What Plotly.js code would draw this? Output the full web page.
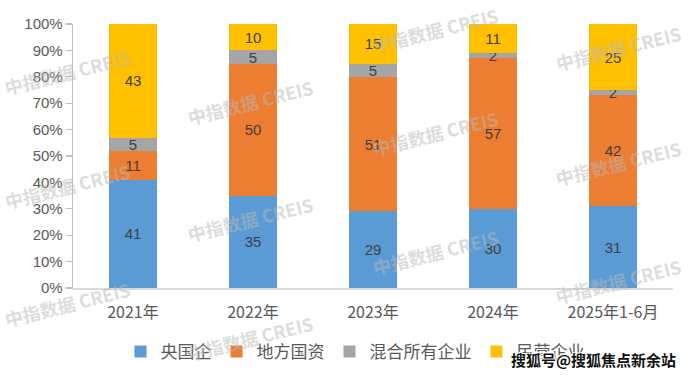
<!DOCTYPE html>
<html>
<head>
<meta charset="utf-8">
<script src="https://cdn.plot.ly/plotly-3.0.1.min.js"></script>
<style>
html,body{margin:0;padding:0;background:#fff;}
#chart{width:692px;height:382px;}
</style>
</head>
<body>
<div id="chart"></div>
<script>
// ---- data ----
const categories = ['2021年', '2022年', '2023年', '2024年', '2025年1-6月'];
const seriesNames = ['央国企', '地方国资', '混合所有企业', '民营企业'];
const central   = [41, 35, 29, 30, 31];   // 央国企
const local     = [11, 50, 51, 57, 42];   // 地方国资
const mixed     = [5, 5, 5, 2, 2];        // 混合所有企业
const privateEn = [43, 10, 15, 11, 25];   // 民营企业
const yTicks = [0, 10, 20, 30, 40, 50, 60, 70, 80, 90, 100];
const yTickText = yTicks.map(v => v + '%');

const colors = ['#5B9BD5', '#ED7D31', '#A5A5A5', '#FFC000'];
const seriesValues = [central, local, mixed, privateEn];

const CJK = '"Noto Sans CJK SC", "Liberation Sans", sans-serif';
const LAT = '"Liberation Sans", Arial, "Noto Sans CJK SC", sans-serif';

const traces = seriesValues.map((vals, i) => ({
  type: 'bar',
  name: seriesNames[i],
  x: categories,
  y: vals,
  marker: {color: colors[i], line: {width: 0}},
  text: vals.map(String),
  textposition: 'inside',
  insidetextanchor: 'middle',
  textangle: 0,
  constraintext: 'none',
  textfont: {family: LAT, size: 15, color: '#404040'},
  hoverinfo: 'skip'
}));

// plot area in pixels: x 73..673, y 24..292
const L = 73, R = 673, T = 24, B = 292;
const px = x => (x - L) / (R - L);
const py = y => (B - y) / (B - T);

const wm = '中指数据 CREIS';
const wmPos = [
  [67, 73], [67, 188], [67, 308],
  [250, 103], [250, 222], [250, 343],
  [435, 30], [435, 135], [435, 255],
  [618, 48], [618, 165], [618, 285]
];
const annotations = wmPos.map(p => ({
  xref: 'paper', yref: 'paper', x: px(p[0]), y: py(p[1]),
  xanchor: 'center', yanchor: 'middle',
  text: '<b>' + wm + '</b>', showarrow: false, textangle: -14,
  font: {family: CJK, size: 18, color: 'rgba(185,185,185,0.5)'}
}));
annotations.push({
  xref: 'paper', yref: 'paper', x: px(593), y: py(365),
  xanchor: 'center', yanchor: 'middle', showarrow: false,
  text: '<b>搜狐号@搜狐焦点新余站</b>',
  font: {family: CJK, size: 15, color: '#111111',
         shadow: '1px 1px 0 #fff, -1px -1px 0 #fff, 1px -1px 0 #fff, -1px 1px 0 #fff'}
});

const layout = {
  width: 692, height: 382,
  margin: {l: L, r: 692 - R, t: T, b: 382 - B, pad: 0},
  paper_bgcolor: '#ffffff', plot_bgcolor: '#ffffff',
  barmode: 'stack',
  bargap: 0.6,
  showlegend: true,
  legend: {
    orientation: 'h', x: 0.47, xanchor: 'center', y: py(357), yanchor: 'middle',
    font: {family: CJK, size: 17, color: '#595959'},
    traceorder: 'normal', itemclick: false, bgcolor: 'rgba(0,0,0,0)'
  },
  xaxis: {
    type: 'category',
    showgrid: false, zeroline: false,
    showline: true, linecolor: '#D9D9D9', linewidth: 1.5,
    ticks: '', ticklabelstandoff: 9,
    tickfont: {family: CJK, size: 16, color: '#595959'}
  },
  yaxis: {
    range: [0, 100],
    tickvals: yTicks, ticktext: yTickText,
    showgrid: false, zeroline: false,
    showline: true, linecolor: '#BFBFBF', linewidth: 1.3,
    ticks: 'outside', ticklen: 6, tickcolor: '#BFBFBF', tickwidth: 1.3,
    tickfont: {family: LAT, size: 15, color: '#595959'}
  },
  annotations: annotations
};

Plotly.newPlot('chart', traces, layout, {displayModeBar: false, staticPlot: true});
</script>
</body>
</html>
